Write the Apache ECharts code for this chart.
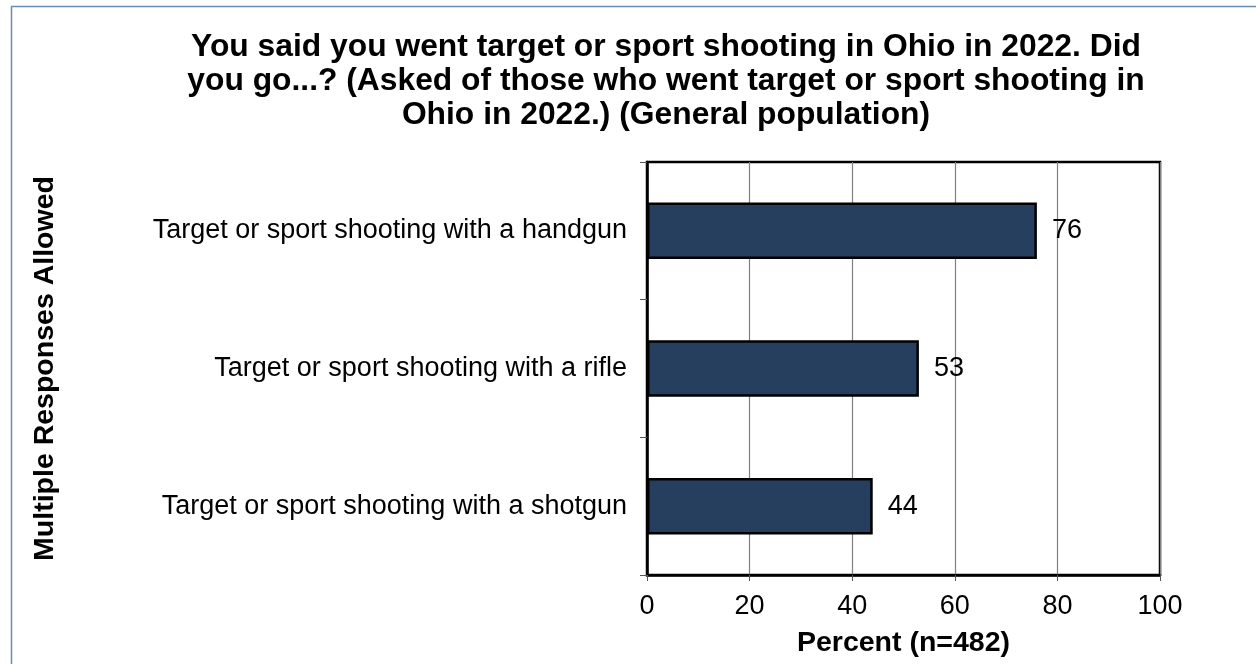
<!DOCTYPE html>
<html>
<head>
<meta charset="utf-8">
<script src="https://cdn.jsdelivr.net/npm/echarts@6/dist/echarts.min.js"></script>
<style>
  html, body { margin: 0; padding: 0; background: #fff; }
  #chart { width: 1256px; height: 664px; }
</style>
</head>
<body>
<div id="chart"></div>
<script>
// Survey responses: type of target / sport shooting (percent of respondents)
const categories = [
  'Target or sport shooting with a handgun',
  'Target or sport shooting with a rifle',
  'Target or sport shooting with a shotgun'
];
const percentValues = [76, 53, 44];
const xTicks = { min: 0, max: 100, interval: 20 };

const titleText = 'You said you went target or sport shooting in Ohio in 2022. Did\n' +
  'you go...? (Asked of those who went target or sport shooting in\n' +
  'Ohio in 2022.) (General population)';

const FONT = 'Liberation Sans, Arial, Helvetica, sans-serif';
const LABEL_SIZE = 27;
const AXIS_NAME_SIZE = 28.5;

const chart = echarts.init(document.getElementById('chart'), null, { renderer: 'canvas' });

chart.setOption({
  backgroundColor: '#ffffff',
  animation: false,
  title: {
    text: titleText,
    left: 661,
    top: 25,
    textAlign: 'center',
    textStyle: {
      fontFamily: FONT,
      fontSize: 31.8,
      fontWeight: 'bold',
      color: '#000',
      lineHeight: 34
    }
  },
  graphic: [{
    type: 'rect',
    silent: true,
    shape: { x: 11.5, y: 6.5, width: 1300, height: 700 },
    style: { fill: 'none', stroke: '#6a8bb3', lineWidth: 1.5 }
  }],
  grid: {
    left: 647,
    right: 96,
    top: 162,
    bottom: 89,
    show: true,
    borderColor: '#000',
    borderWidth: 2.5,
    containLabel: false,
    outerBoundsMode: 'none'
  },
  xAxis: {
    type: 'value',
    min: xTicks.min,
    max: xTicks.max,
    interval: xTicks.interval,
    name: 'Percent (n=482)',
    nameLocation: 'middle',
    nameGap: 54,
    nameTextStyle: { fontFamily: FONT, fontSize: AXIS_NAME_SIZE, fontWeight: 'bold', color: '#000' },
    axisLine: { show: true, lineStyle: { color: '#000', width: 2.5 } },
    axisTick: { show: true, length: 6, lineStyle: { color: '#555', width: 1 } },
    axisLabel: { fontFamily: FONT, fontSize: LABEL_SIZE, color: '#000', margin: 18 },
    splitLine: { show: true, lineStyle: { color: '#808080', width: 1.2 } }
  },
  yAxis: {
    type: 'category',
    data: categories,
    inverse: true,
    name: 'Multiple Responses Allowed',
    nameLocation: 'middle',
    nameGap: 587,
    nameRotate: 90,
    nameTextStyle: { fontFamily: FONT, fontSize: AXIS_NAME_SIZE, fontWeight: 'bold', color: '#000' },
    axisLine: { show: true, lineStyle: { color: '#000', width: 2.5 } },
    axisTick: { show: true, length: 7, alignWithLabel: false, lineStyle: { color: '#555', width: 1 } },
    axisLabel: { fontFamily: FONT, fontSize: LABEL_SIZE, color: '#000', margin: 20 },
    splitLine: { show: false }
  },
  series: [{
    type: 'bar',
    data: percentValues,
    barCategoryGap: '59%',
    itemStyle: { color: '#263f5f', borderColor: '#000', borderWidth: 2.5 },
    label: {
      show: true,
      position: 'right',
      distance: 15,
      fontFamily: FONT,
      fontSize: LABEL_SIZE,
      color: '#000'
    }
  }]
});
</script>
</body>
</html>
